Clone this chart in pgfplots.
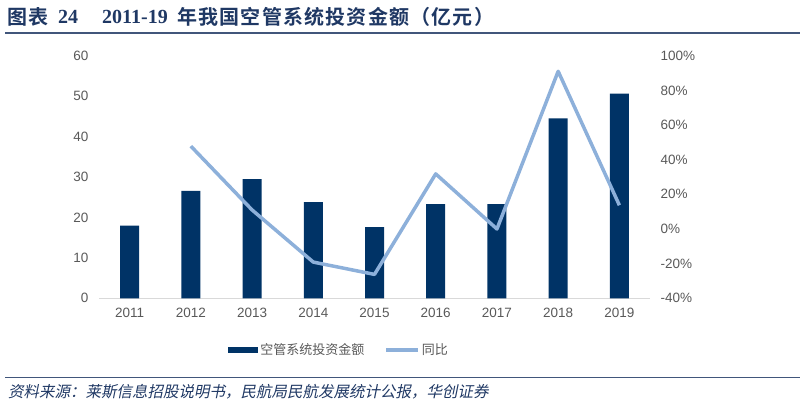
\documentclass[border=0pt]{standalone}
\usepackage{fontspec}
\usepackage{pgfplots}
\pgfplotsset{compat=1.18}
\setmainfont{Liberation Sans}
\newfontfamily\cjk{Noto Sans CJK SC}
\newfontfamily\cjkb[LetterSpace=6]{Noto Sans CJK SC Bold}
\newfontfamily\cjkit[FakeSlant=0.2]{Noto Sans CJK SC}
\newfontfamily\tms{Liberation Serif}
\definecolor{barcol}{RGB}{0,51,102}
\definecolor{linecol}{RGB}{141,176,218}
\definecolor{navy}{RGB}{31,56,100}
\definecolor{ticktxt}{RGB}{89,89,89}
\definecolor{axgray}{RGB}{217,217,217}
\begin{document}
\begin{tikzpicture}[x=1pt,y=1pt]
\useasboundingbox (0,0) rectangle (802,408);
% title
\node[anchor=west,inner sep=0,text=navy] at (7,391) {\cjkb\fontsize{20}{22}\selectfont 图表};
\node[anchor=west,inner sep=0,text=navy] at (58,391) {\tms\bfseries\fontsize{20}{22}\selectfont 24};
\node[anchor=west,inner sep=0,text=navy] at (102,391) {\tms\bfseries\fontsize{20}{22}\selectfont 2011-19};
\node[anchor=west,inner sep=0,text=navy] at (177,391) {\cjkb\fontsize{20}{22}\selectfont 年我国空管系统投资金额（亿元）};
\draw[navy!85!white,line width=1.8] (5,375) -- (800,375);
% source
\draw[navy!85!white,line width=1.5] (5,30.3) -- (800,30.3);
\node[anchor=west,inner sep=0,text=navy] at (8,16) {\cjkit\fontsize{15.5}{17}\selectfont 资料来源：莱斯信息招股说明书，民航局民航发展统计公报，华创证券};

\begin{axis}[
  at={(99pt,109.7pt)}, anchor=south west,
  scale only axis, width=551pt, height=242.6pt,
  xmin=-0.5, xmax=8.5, ymin=0, ymax=60,
  ytick={0,10,...,60},
  xtick={0,...,8},
  xticklabels={2011,2012,2013,2014,2015,2016,2017,2018,2019},
  axis x line*=bottom, axis y line*=left,
  x axis line style={axgray,line width=1.2pt},
  y axis line style={draw=none},
  major tick length=0pt,
  tick label style={text=ticktxt,font=\fontsize{13.5}{15}\selectfont},
  /pgf/number format/assume math mode=true,
  yticklabel style={xshift=-7pt},
  xticklabel style={yshift=-6pt},
  legend style={draw=none,at={(0.436,-0.213)},anchor=center,legend columns=2,
    font=\cjk\fontsize{13}{15}\selectfont,text=ticktxt,
    /tikz/every even column/.append style={column sep=18pt}},
  clip=false,
]
\addplot[ybar,bar width=19pt,fill=barcol,draw=none,
  legend image code/.code={\fill[barcol] (0pt,-3pt) rectangle (30pt,3pt);}]
  coordinates {(0,18.0) (1,26.6) (2,29.5) (3,23.8) (4,17.6) (5,23.3) (6,23.3) (7,44.5) (8,50.6)};
\addlegendentry{空管系统投资金额}
\addlegendimage{linecol,line width=3.5pt,
  legend image code/.code={\draw[linecol,line width=3.5pt] (0pt,0pt) -- (32pt,0pt);}}
\addlegendentry{同比}
\end{axis}

\begin{axis}[
  at={(99pt,109.7pt)}, anchor=south west,
  scale only axis, width=551pt, height=242.6pt,
  xmin=-0.5, xmax=8.5, ymin=-40, ymax=100,
  ytick={-40,-20,...,100},
  yticklabel={\pgfmathprintnumber{\tick}\%},
  axis x line=none, axis y line*=right,
  y axis line style={draw=none},
  major tick length=0pt,
  tick label style={text=ticktxt,font=\fontsize{13.5}{15}\selectfont},
  /pgf/number format/assume math mode=true,
  yticklabel style={xshift=7pt},
]
\addplot[linecol,line width=3.5pt,line join=round,mark=none]
  coordinates {(1,47.8) (2,11.0) (3,-19.1) (4,-26.2) (5,31.8) (6,0.0) (7,91.0) (8,13.7)};
\end{axis}
\end{tikzpicture}
\end{document}
